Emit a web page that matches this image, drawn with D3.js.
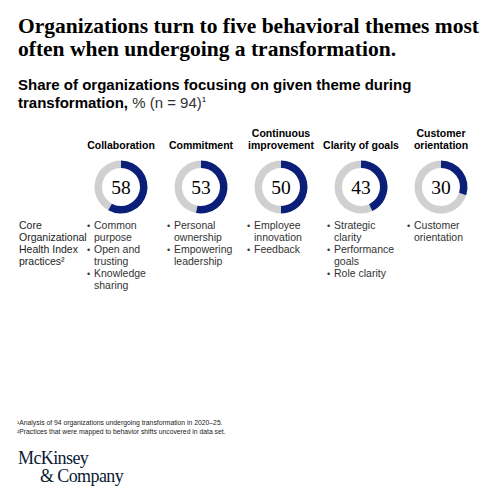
<!DOCTYPE html>
<html>
<head>
<meta charset="utf-8">
<script src="https://cdn.jsdelivr.net/npm/d3@7"></script>
<style>
  body { margin: 0; background: #fff; }
  svg text { font-family: "Liberation Sans", Arial, sans-serif; fill: #000; }
  svg text.serif { font-family: "Liberation Serif", "DejaVu Serif", serif; }
</style>
</head>
<body>
<svg id="chart" width="500" height="500"></svg>
<script>
// data
var themes = [["Collaboration"], ["Commitment"], ["Continuous", "improvement"], ["Clarity of goals"], ["Customer", "orientation"]];
var shares = [58, 53, 50, 43, 30];
var practices = [
  [["Common", "purpose"], ["Open and", "trusting"], ["Knowledge", "sharing"]],
  [["Personal", "ownership"], ["Empowering", "leadership"]],
  [["Employee", "innovation"], ["Feedback"]],
  [["Strategic", "clarity"], ["Performance", "goals"], ["Role clarity"]],
  [["Customer", "orientation"]]
];
var rowLabel = ["Core", "Organizational", "Health Index", "practices²"];

var svg = d3.select("#chart");
var navy = "#0b1f78", grey = "#d0d0d0";

// title
var title = svg.append("text").attr("class", "serif").attr("x", 18)
    .attr("font-size", 21.5).attr("font-weight", "bold");
title.append("tspan").attr("x", 18).attr("y", 33).text("Organizations turn to five behavioral themes most");
title.append("tspan").attr("x", 18).attr("y", 56).text("often when undergoing a transformation.");

var sub = svg.append("text").attr("font-size", 15);
sub.append("tspan").attr("x", 18).attr("y", 90).attr("font-weight", "bold").text("Share of organizations focusing on given theme during");
var l2 = sub.append("tspan").attr("x", 18).attr("y", 108);
l2.append("tspan").attr("font-weight", "bold").text("transformation, ");
l2.append("tspan").style("fill", "#333").text("% (n = 94)");
l2.append("tspan").attr("font-size", 8).attr("dy", -6).text("1");

// columns
var x = d3.scalePoint().domain(d3.range(shares.length)).range([121, 441]);
var pct = d3.scaleLinear().domain([0, 100]).range([0, 2 * Math.PI]);
var arc = d3.arc().innerRadius(19).outerRadius(26.5);
var cy = 187;

var col = svg.selectAll("g.col").data(shares).enter().append("g")
    .attr("class", "col")
    .attr("transform", function(d, i) { return "translate(" + x(i) + ",0)"; });

col.append("text").attr("text-anchor", "middle").attr("font-size", 10.5).attr("font-weight", "bold")
  .each(function(d, i) {
    var t = d3.select(this), lines = themes[i];
    lines.forEach(function(s, k) {
      t.append("tspan").attr("x", 0).attr("y", 149 - (lines.length - 1 - k) * 12).text(s);
    });
  });

col.append("path").attr("transform", "translate(0," + cy + ")")
  .attr("fill", grey).attr("d", function(d) { return arc({startAngle: pct(d), endAngle: pct(100)}); });
col.append("path").attr("transform", "translate(0," + cy + ")")
  .attr("fill", navy).attr("d", function(d) { return arc({startAngle: 0, endAngle: pct(d)}); });

col.append("text").attr("class", "serif").attr("text-anchor", "middle").attr("y", cy + 6.5).attr("font-size", 19.5)
  .text(function(d) { return d; });

col.each(function(d, i) {
  var g = d3.select(this), y = 229;
  practices[i].forEach(function(item) {
    g.append("text").attr("x", -34).attr("y", y).attr("font-size", 9).style("fill", "#333").text("•");
    item.forEach(function(s) {
      g.append("text").attr("x", -27).attr("y", y).attr("font-size", 10.5).style("fill", "#333").text(s);
      y += 12;
    });
  });
});

svg.append("text").attr("font-size", 10.5).style("fill", "#222").selectAll("tspan").data(rowLabel).enter()
  .append("tspan").attr("x", 19).attr("y", function(d, i) { return 229 + i * 12; }).text(function(d) { return d; });

// footnotes
svg.append("text").attr("x", 17).attr("y", 425).attr("font-size", 6.8).style("fill", "#222")
  .text("¹Analysis of 94 organizations undergoing transformation in 2020–25.");
svg.append("text").attr("x", 17).attr("y", 434).attr("font-size", 6.8).style("fill", "#222")
  .text("²Practices that were mapped to behavior shifts uncovered in data set.");

// logo
var logo = svg.append("text").attr("class", "serif").attr("font-size", 18).style("fill", "#0b1a33");
logo.append("tspan").attr("x", 18).attr("y", 464).attr("letter-spacing", -0.6).text("McKinsey");
logo.append("tspan").attr("x", 40).attr("y", 482).attr("letter-spacing", -0.6).text("& Company");
</script>
</body>
</html>
